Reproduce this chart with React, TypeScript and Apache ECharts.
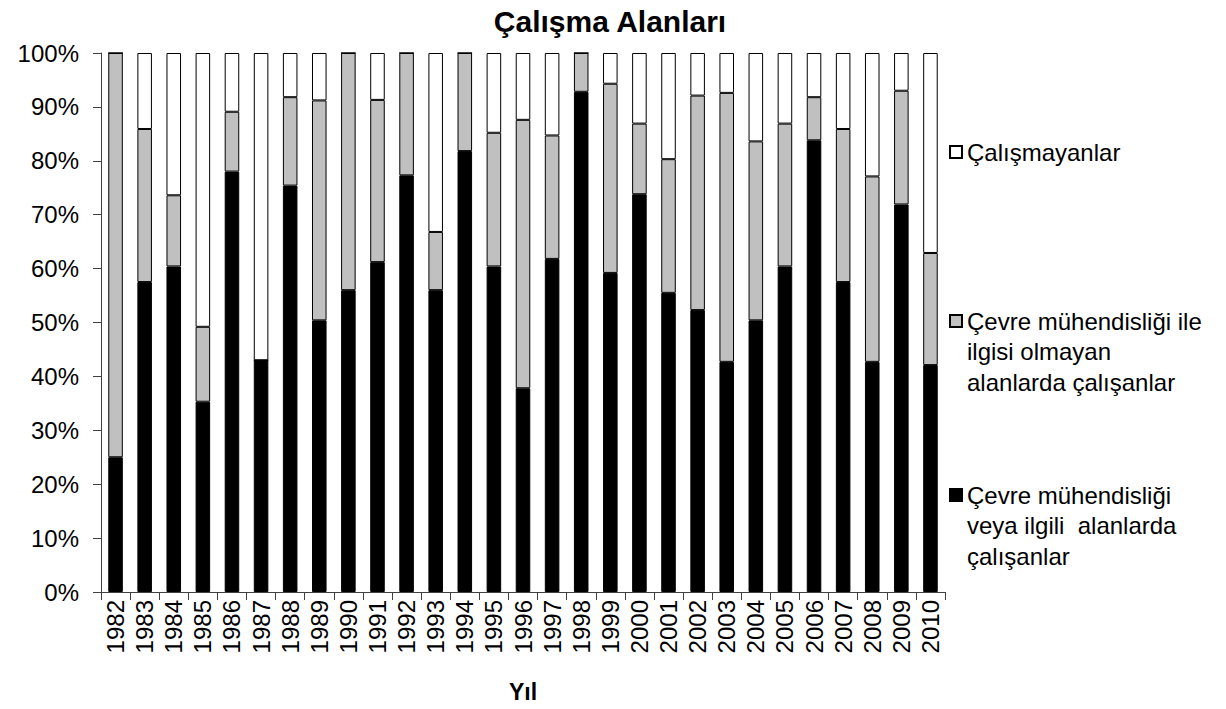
import React, { useEffect, useRef } from "react";
import * as echarts from "echarts";

const years = [
  "1982", "1983", "1984", "1985", "1986", "1987", "1988", "1989", "1990", "1991",
  "1992", "1993", "1994", "1995", "1996", "1997", "1998", "1999", "2000", "2001",
  "2002", "2003", "2004", "2005", "2006", "2007", "2008", "2009", "2010",
];

// Çevre mühendisliği veya ilgili alanlarda çalışanlar (black)
const relatedValues = [
  25.0, 57.5, 60.4, 35.3, 78.0, 43.0, 75.4, 50.4, 56.0, 61.2,
  77.3, 56.0, 81.8, 60.4, 37.8, 61.8, 92.8, 59.2, 73.8, 55.5,
  52.3, 42.7, 50.4, 60.4, 83.8, 57.5, 42.7, 71.9, 42.1,
];

// Çevre mühendisliği ile ilgisi olmayan alanlarda çalışanlar (gray)
const unrelatedValues = [
  75.0, 28.4, 13.2, 13.9, 11.1, 0, 16.4, 40.8, 44.0, 30.1,
  22.7, 10.8, 18.2, 24.8, 49.8, 22.9, 7.2, 35.1, 13.1, 24.8,
  39.8, 49.9, 33.2, 26.5, 8.0, 28.4, 34.4, 21.1, 20.8,
];

// Çalışmayanlar (white)
const notWorkingValues = [
  0, 14.1, 26.4, 50.8, 10.9, 57.0, 8.2, 8.8, 0, 8.7,
  0, 33.2, 0, 14.8, 12.4, 15.3, 0, 5.7, 13.1, 19.7,
  7.9, 7.4, 16.4, 13.1, 8.2, 14.1, 22.9, 7.0, 37.1,
];

const seriesNames = [
  "Çevre mühendisliği\nveya ilgili  alanlarda\nçalışanlar",
  "Çevre mühendisliği ile\nilgisi olmayan\nalanlarda çalışanlar",
  "Çalışmayanlar",
];

const FONT = "Liberation Sans, Arial, sans-serif";
const LINE_H = 30.5;

export default function App() {
  const ref = useRef<HTMLDivElement>(null);

  useEffect(() => {
    if (!ref.current) return;
    const chart = echarts.init(ref.current, undefined, { renderer: "svg" });

    const mkSeries = (name: string, data: number[], color: string) => ({
      name,
      type: "bar",
      stack: "total",
      data,
      barWidth: "50%",
      itemStyle: { color, borderColor: "#000", borderWidth: 1 },
      emphasis: { disabled: true },
    });

    // iconCenter: desired vertical centre of the legend icon (first text line)
    const mkLegend = (name: string, iconCenter: number) => {
      const lines = name.split("\n").length;
      const pad = lines - 1;
      const total = lines + pad;
      const textHalf = (total * LINE_H) / 2;
      return {
        data: [name],
        left: 949,
        top: iconCenter - textHalf,
        orient: "vertical",
        icon: "rect",
        itemWidth: 12,
        itemHeight: 12,
        itemGap: 0,
        padding: 0,
        selectedMode: false,
        formatter: (n: string) => "\n".repeat(pad) + n,
        textStyle: {
          fontFamily: FONT,
          fontSize: 24,
          color: "#000",
          lineHeight: LINE_H,
        },
      };
    };

    chart.setOption({
      animation: false,
      backgroundColor: "#fff",
      title: {
        text: "Çalışma Alanları",
        left: 605,
        textAlign: "center",
        top: 1,
        textStyle: { fontFamily: FONT, fontSize: 30, fontWeight: "bold", color: "#000" },
      },
      grid: {
        left: 101,
        right: 281,
        top: 53,
        bottom: 117,
        containLabel: false,
        outerBoundsMode: "none",
      },
      legend: [
        mkLegend(seriesNames[2], 152),
        mkLegend(seriesNames[1], 321),
        mkLegend(seriesNames[0], 495),
      ],
      xAxis: {
        type: "category",
        data: years,
        name: "Yıl",
        nameLocation: "middle",
        nameGap: 88,
        nameTextStyle: { fontFamily: FONT, fontSize: 23, fontWeight: "bold", color: "#000" },
        axisLine: { lineStyle: { color: "#404040", width: 1 } },
        axisTick: { show: true, length: 8, lineStyle: { color: "#404040" }, alignWithLabel: false },
        axisLabel: { interval: 0, rotate: 90, margin: 8, fontFamily: FONT, fontSize: 24, color: "#000" },
        splitLine: { show: false },
      },
      yAxis: {
        type: "value",
        min: 0,
        max: 100,
        interval: 10,
        axisLine: { show: true, lineStyle: { color: "#404040", width: 1 } },
        axisTick: { show: true, length: 8, lineStyle: { color: "#404040" } },
        axisLabel: { formatter: "{value}%", margin: 22, fontFamily: FONT, fontSize: 24, color: "#000" },
        splitLine: { show: false },
      },
      series: [
        mkSeries(seriesNames[0], relatedValues, "#000000"),
        mkSeries(seriesNames[1], unrelatedValues, "#C0C0C0"),
        mkSeries(seriesNames[2], notWorkingValues, "#FFFFFF"),
      ],
    });

    return () => chart.dispose();
  }, []);

  return (
    <div
      ref={ref}
      style={{ position: "fixed", left: 0, top: 0, width: 1226, height: 709 }}
    />
  );
}
